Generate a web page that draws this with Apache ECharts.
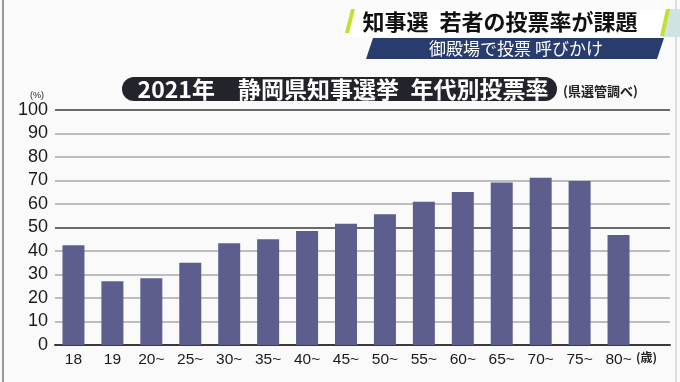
<!DOCTYPE html>
<html><head><meta charset="utf-8">
<script src="https://cdn.jsdelivr.net/npm/echarts@6/dist/echarts.min.js"></script>
<style>html,body{margin:0;padding:0;background:#fafafa}#c{width:680px;height:382px}</style>
</head><body><div id="c"></div>
<script>
const categories = ['18','19','20~','25~','30~','35~','40~','45~','50~','55~','60~','65~','70~','75~','80~'];
const turnout = [42.4, 27.1, 28.4, 35.0, 43.3, 45.0, 48.5, 51.6, 55.6, 61.0, 65.1, 69.1, 71.2, 69.8, 46.8];
const yTicks = [0,10,20,30,40,50,60,70,80,90,100];
const titleText = '2021年\u2003静岡県知事選挙\u2002年代別投票率';
const sourceText = '(県選管調べ)';
const headline = '知事選\u2002若者の投票率が課題';
const subline = '御殿場で投票 呼びかけ';

const NARROW = '"Liberation Sans Narrow","Arial Narrow","Liberation Sans",sans-serif';
const SANS = '"Liberation Sans",Arial,sans-serif';
const JP = '"Noto Sans CJK JP","Noto Sans",sans-serif';
const lineColors = yTicks.map(v => (v % 50 === 0) ? '#3a3a3a' : '#a8a8a8');

const chart = echarts.init(document.getElementById('c'), null, {renderer:'canvas'});
chart.setOption({
  backgroundColor: '#fafafa',
  animation: false,
  grid: [
    {left: 54, right: 42, top: 110, bottom: 37},
    {left: 55, right: 10, top: 110, bottom: 37}
  ],
  xAxis: [
    {type:'category', gridIndex:0, data: categories,
     axisLine:{show:false}, axisTick:{show:false},
     axisLabel:{color:'#1a1a1a', fontSize:15.5, fontFamily:SANS, margin:7}},
    {type:'value', gridIndex:1, min:0, max:1, show:true,
     axisLine:{show:true, onZero:false, lineStyle:{color:'#3a3a3a', width:2}},
     axisTick:{show:false}, axisLabel:{show:false}, splitLine:{show:false}}
  ],
  yAxis: [
    {type:'value', gridIndex:0, min:0, max:100, interval:10,
     axisLine:{show:false}, axisTick:{show:false}, splitLine:{show:false},
     axisLabel:{color:'#1a1a1a', fontSize:18, fontFamily:NARROW, margin:6}},
    {type:'value', gridIndex:1, min:0, max:100, interval:10,
     axisLine:{show:false}, axisTick:{show:false}, axisLabel:{show:false},
     splitLine:{show:true, lineStyle:{color:lineColors, width:1.5}}}
  ],
  series: [{
    type:'bar', xAxisIndex:0, yAxisIndex:0, data: turnout,
    barWidth: 22, itemStyle:{color:'#5e5e8e'}, z:3
  }],
  graphic: [
    {type:'line', shape:{x1:3,y1:0,x2:3,y2:382}, style:{stroke:'#7a7a7a', lineWidth:1.5}},
    {type:'line', shape:{x1:676,y1:0,x2:676,y2:382}, style:{stroke:'#bdbdbd', lineWidth:1}},
    {type:'polygon', shape:{points:[[353,9],[670,9],[664,37],[347,37]]}, style:{fill:'#ffffff'}},
    {type:'polygon', shape:{points:[[668,9],[680,9],[680,37],[662,37]]}, style:{fill:'#cfe3e3'}},
    {type:'polygon', shape:{points:[[351,9],[355,9],[349,33],[345,33]]}, style:{fill:'#c5e02c'}},
    {type:'polygon', shape:{points:[[666,9],[670,9],[664,36],[660,36]]}, style:{fill:'#c5e02c'}},
    {type:'text', x:500, y:22, style:{text:headline, fill:'#111', font:'bold 22px '+JP, textAlign:'center', textVerticalAlign:'middle'}},
    {type:'polygon', shape:{points:[[373,38],[664,38],[657,59],[366,59]]}, style:{fill:'#283c6e'}},
    {type:'text', x:516, y:49, style:{text:subline, fill:'#ffffff', font:'17px '+JP, textAlign:'center', textVerticalAlign:'middle'}},
    {type:'rect', shape:{x:122, y:77, width:435, height:24, r:12}, style:{fill:'#23232b'}},
    {type:'text', x:343, y:89, style:{text:titleText, fill:'#ffffff', font:'bold 23px '+JP, textAlign:'center', textVerticalAlign:'middle'}},
    {type:'text', x:563, y:91, style:{text:sourceText, fill:'#222', font:'bold 13px '+JP, textAlign:'left', textVerticalAlign:'middle'}},
    {type:'text', x:37, y:96, style:{text:'(%)', fill:'#222', font:'9px '+NARROW, textAlign:'center', textVerticalAlign:'middle'}},
    {type:'text', x:636, y:357, style:{text:'(歳)', fill:'#222', font:'bold 12px '+JP, textAlign:'left', textVerticalAlign:'middle'}}
  ]
});
</script></body></html>
